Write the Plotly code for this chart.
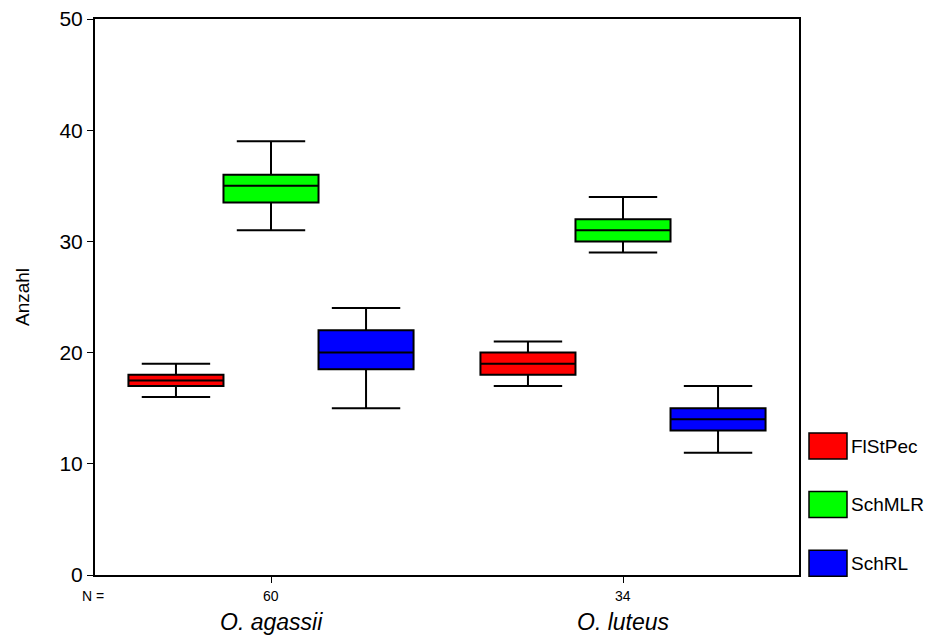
import plotly.graph_objects as go

# ---- data ----
species = ["O. agassii", "O. luteus"]
n_counts = [60, 34]
series_names = ["FlStPec", "SchMLR", "SchRL"]
series_colors = ["#FF0000", "#00FF00", "#0000FF"]

flstpec_min = [16, 17]
flstpec_q1 = [17, 18]
flstpec_med = [17.5, 19]
flstpec_q3 = [18, 20]
flstpec_max = [19, 21]

schmlr_min = [31, 29]
schmlr_q1 = [33.5, 30]
schmlr_med = [35, 31]
schmlr_q3 = [36, 32]
schmlr_max = [39, 34]

schrl_min = [15, 11]
schrl_q1 = [18.5, 13]
schrl_med = [20, 14]
schrl_q3 = [22, 15]
schrl_max = [24, 17]

y_ticks = [0, 10, 20, 30, 40, 50]

stats = [
    (flstpec_min, flstpec_q1, flstpec_med, flstpec_q3, flstpec_max),
    (schmlr_min, schmlr_q1, schmlr_med, schmlr_q3, schmlr_max),
    (schrl_min, schrl_q1, schrl_med, schrl_q3, schrl_max),
]

FONT = "Liberation Sans, Arial, sans-serif"

fig = go.Figure()
for name, color, (mn, q1, med, q3, mx) in zip(series_names, series_colors, stats):
    fig.add_trace(go.Box(
        name=name,
        x=species,
        lowerfence=mn, q1=q1, median=med, q3=q3, upperfence=mx,
        fillcolor=color,
        line=dict(color="black", width=2),
        whiskerwidth=0.72,
        boxpoints=False,
        showlegend=False,
        hoverinfo="y",
    ))

# page layout (the html body adds an 8px offset)
BODY = 8
W, H = 940, 637
plot_left, plot_right, plot_top, plot_bottom = 95, 799, 19, 575  # page px
pw = plot_right - plot_left
ph = plot_bottom - plot_top


def px_x(px):
    return (px - plot_left) / pw


def px_y(py):
    return (plot_bottom - py) / ph


shapes = []
annotations = []
legend_top_px = 433
legend_step_px = 58.6
for i, (name, color) in enumerate(zip(series_names, series_colors)):
    top = legend_top_px + i * legend_step_px
    bot = top + 26
    shapes.append(dict(
        type="rect", xref="paper", yref="paper",
        x0=px_x(809), x1=px_x(847), y0=px_y(bot), y1=px_y(top),
        fillcolor=color, line=dict(color="black", width=1.5),
    ))
    annotations.append(dict(
        xref="paper", yref="paper",
        x=px_x(849), y=px_y((top + bot) / 2),
        text=name, showarrow=False, xanchor="left", yanchor="middle",
        font=dict(family=FONT, size=19, color="black"),
    ))

# N counts under the axis
annotations.append(dict(
    xref="paper", yref="paper", x=px_x(93), y=px_y(596),
    text="N =", showarrow=False, xanchor="center", yanchor="middle",
    font=dict(family=FONT, size=14, color="black"),
))
for sp, n in zip(species, n_counts):
    annotations.append(dict(
        xref="x", yref="paper", x=sp, y=px_y(596),
        text=str(n), showarrow=False, xanchor="center", yanchor="middle",
        font=dict(family=FONT, size=14, color="black"),
    ))
    annotations.append(dict(
        xref="x", yref="paper", x=sp, y=px_y(622),
        text=f"<i>{sp}</i>", showarrow=False, xanchor="center", yanchor="middle",
        font=dict(family=FONT, size=23, color="black"),
    ))

fig.update_layout(
    width=W, height=H,
    margin=dict(l=plot_left - BODY, r=W - (plot_right - BODY),
                t=plot_top - BODY, b=H - (plot_bottom - BODY), autoexpand=False),
    paper_bgcolor="white", plot_bgcolor="white",
    boxmode="group", boxgap=0.19, boxgroupgap=0,
    font=dict(family=FONT, size=17, color="black"),
    shapes=shapes, annotations=annotations,
    showlegend=False,
)
fig.update_xaxes(
    tickvals=species, showticklabels=False, automargin=False,
    showline=True, linecolor="black", linewidth=2, mirror=True,
    ticks="outside", ticklen=6, tickwidth=1, tickcolor="black",
    showgrid=False, zeroline=False,
)
fig.update_yaxes(
    range=[0, 50], tickvals=y_ticks, automargin=False,
    ticklabeloverflow="allow",
    showline=True, linecolor="black", linewidth=2, mirror=True,
    ticks="outside", ticklen=6, tickwidth=1, tickcolor="black",
    tickfont=dict(family=FONT, size=21, color="black"),
    title=dict(text="Anzahl", font=dict(family=FONT, size=19, color="black"), standoff=25),
    showgrid=False, zeroline=False,
)

fig.write_html("out.html")
